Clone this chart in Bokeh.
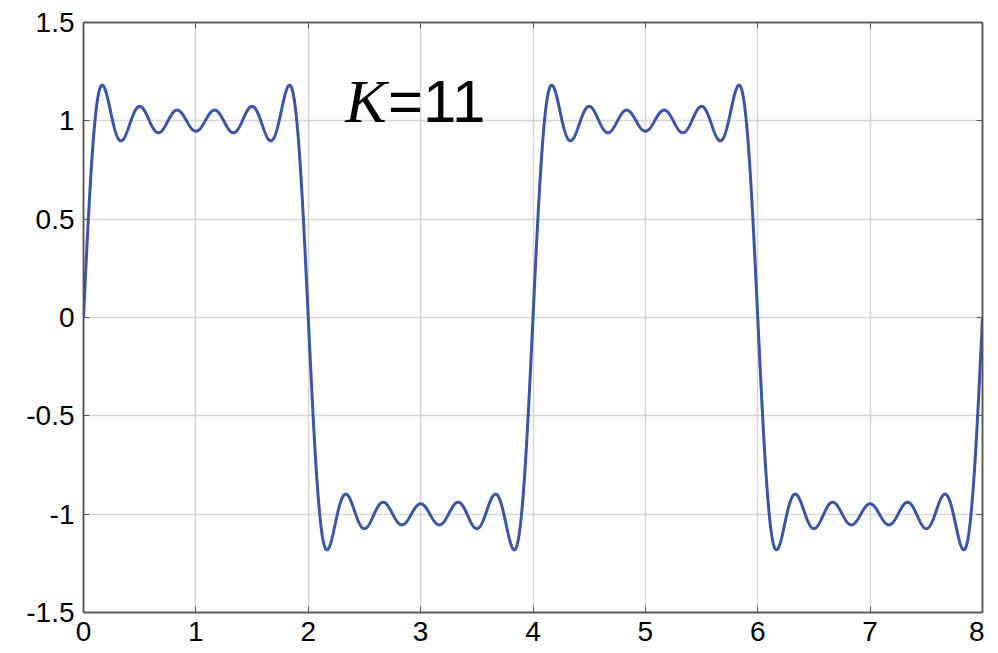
import numpy as np
from bokeh.plotting import figure
from bokeh.models import LinearAxis, FixedTicker, Range1d
from bokeh.core.properties import value
from bokeh.embed import file_html
from bokeh.resources import INLINE

# Fourier partial sum of a square wave (period 4), odd harmonics up to K=11
harmonics = [1, 3, 5, 7, 9, 11]
amplitudes = [4 / (np.pi * n) for n in harmonics]
period = 4.0

x_ticks = [0, 1, 2, 3, 4, 5, 6, 7, 8]
y_ticks = [-1.5, -1.0, -0.5, 0.0, 0.5, 1.0, 1.5]
y_tick_labels = ["-1.5", "-1", "-0.5", "0", "0.5", "1", "1.5"]

x = np.linspace(0, 8, 3001)
y = np.zeros_like(x)
for n, a in zip(harmonics, amplitudes):
    y += a * np.sin(2 * np.pi * n * x / period)

p = figure(width=984, height=653, output_backend="svg", toolbar_location=None,
           x_range=Range1d(0, 8), y_range=Range1d(-1.5, 1.5),
           min_border_left=83, min_border_right=2, min_border_top=22, min_border_bottom=41)
p.background_fill_color = "white"
p.border_fill_color = "white"
p.outline_line_color = "#555555"
p.outline_line_width = 1.5

p.line(x, y, line_color="#3b55a5", line_width=3)

frame_col = "#555555"
for ax in (p.xaxis[0], p.yaxis[0]):
    ax.axis_line_color = frame_col
    ax.axis_line_width = 1.5
    ax.major_tick_in = 6
    ax.major_tick_out = 0
    ax.minor_tick_line_color = None
    ax.major_tick_line_color = frame_col
    ax.major_label_text_font = "Liberation Sans"
    ax.major_label_text_font_size = "28px"
    ax.major_label_text_color = "black"
p.xaxis[0].ticker = FixedTicker(ticks=x_ticks)
p.xaxis[0].major_label_standoff = 9
p.yaxis[0].ticker = FixedTicker(ticks=y_ticks)
p.yaxis[0].major_label_overrides = {t: l for t, l in zip(y_ticks, y_tick_labels)}
p.yaxis[0].major_label_standoff = 9

top = LinearAxis(ticker=FixedTicker(ticks=x_ticks))
right = LinearAxis(ticker=FixedTicker(ticks=y_ticks))
for ax in (top, right):
    ax.axis_line_color = frame_col
    ax.axis_line_width = 1.5
    ax.major_tick_in = 6
    ax.major_tick_out = 0
    ax.minor_tick_line_color = None
    ax.major_tick_line_color = frame_col
    ax.major_label_text_font_size = "1px"
    ax.major_label_text_color = None
    ax.major_label_standoff = 0
p.add_layout(top, "above")
p.add_layout(right, "right")

p.xgrid.ticker = FixedTicker(ticks=x_ticks)
p.ygrid.ticker = FixedTicker(ticks=y_ticks)
p.grid.grid_line_color = "#d6d6d6"
p.grid.grid_line_width = 1.5

p.text(x=[2.33], y=[1.10], text=["K"], text_font=value("Liberation Serif"),
       text_font_style="italic", text_font_size="62px", text_color="black",
       text_baseline="alphabetic", text_align="left")
p.text(x=[2.71], y=[1.10], text=["=11"], text_font=value("Liberation Sans"),
       text_font_size="60px", text_color="black",
       text_baseline="alphabetic", text_align="left")

open("out.html", "w").write(file_html(p, INLINE))
